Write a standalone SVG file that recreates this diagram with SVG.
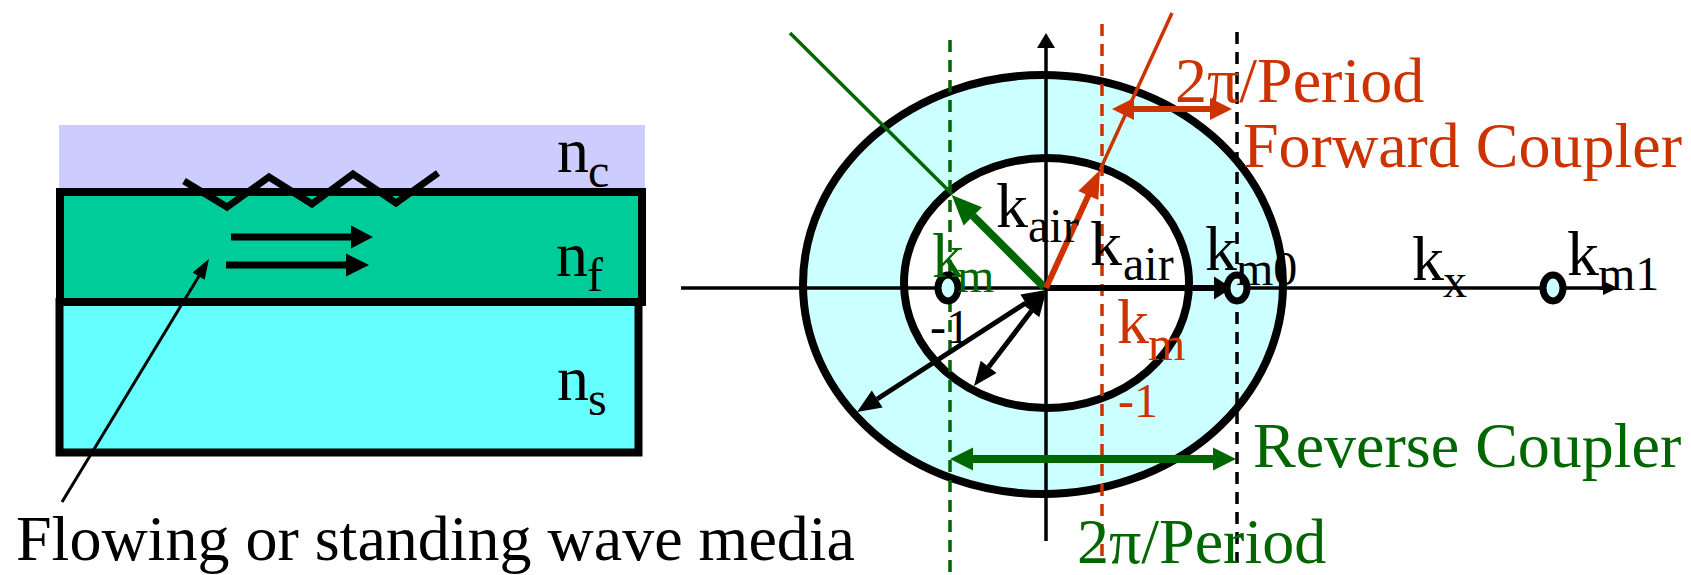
<svg xmlns="http://www.w3.org/2000/svg" width="1691" height="575" viewBox="0 0 1691 575">
<style>
text{font-family:"Liberation Serif","Times New Roman",serif;font-size:64px;fill:#000}
.sub{font-size:48px}
.red{fill:#CC3300}
.grn{fill:#006600}
.dash{stroke-width:3.5;stroke-dasharray:12 8;fill:none}
</style>
<rect width="1691" height="575" fill="#fff"/>

<g id="media">
  <rect id="cladding" x="59" y="125" width="586" height="67" fill="#CCCCFF"/>
  <rect id="substrate" x="59.5" y="302" width="579" height="150.5" fill="#66FFFF" stroke="#000" stroke-width="8"/>
  <rect id="film" x="60" y="192" width="582" height="110" fill="#00CC99" stroke="#000" stroke-width="8"/>
  <polyline id="grating" points="184,181 227,207 269,177 312,204 353,174 396,203 438,173" fill="none" stroke="#000" stroke-width="7"/>
  <g id="flow">
    <line x1="231" y1="237" x2="352" y2="237" stroke="#000" stroke-width="7"/>
    <polygon points="351,225.5 373,237 351,248.5" fill="#000"/>
    <line x1="226" y1="265" x2="347" y2="265" stroke="#000" stroke-width="7"/>
    <polygon points="346,253.5 369,265 346,276.5" fill="#000"/>
  </g>
  <text x="557" y="172">n<tspan class="sub" x="588" y="187">c</tspan></text>
  <text x="556" y="276">n<tspan class="sub" x="587" y="291">f</tspan></text>
  <text x="557" y="400">n<tspan class="sub" x="588" y="415">s</tspan></text>
</g>

<g id="caption">
  <line x1="62" y1="502" x2="199" y2="276" stroke="#000" stroke-width="3"/>
  <polygon points="209,259 204.6,279.7 192.6,272.5" fill="#000"/>
  <text x="16" y="560">Flowing or standing wave media</text>
</g>

<g id="circles">
  <ellipse id="outer" cx="1043" cy="284.5" rx="240" ry="209.5" fill="#CCFFFF" stroke="#000" stroke-width="8"/>
  <ellipse id="inner" cx="1046.5" cy="283" rx="142.5" ry="125" fill="#fff" stroke="#000" stroke-width="8"/>
</g>

<g id="connectors">
  <line x1="950" y1="40" x2="950" y2="573" stroke="#006600" class="dash"/>
  <line x1="1102" y1="24" x2="1102" y2="557" stroke="#CC3300" class="dash"/>
  <line x1="1237" y1="32" x2="1237" y2="563" stroke="#000" class="dash"/>

  <line x1="681" y1="288" x2="1604" y2="288" stroke="#000" stroke-width="3.5"/>
  <polygon points="1603,281 1618,288 1603,295" fill="#000"/>
  <line x1="1046" y1="541" x2="1046" y2="47" stroke="#000" stroke-width="3.5"/>
  <polygon points="1037,48 1046,33 1055,48" fill="#000"/>

  <line x1="1046" y1="288" x2="1215" y2="288" stroke="#000" stroke-width="6"/>
  <polygon points="1214,276.5 1232,288 1214,299.5" fill="#000"/>

  <line x1="1025.8" y1="303" x2="877.2" y2="399" stroke="#000" stroke-width="5"/>
  <polygon points="857,412 882.6,407.4 871.8,390.6" fill="#000"/>
  <polygon points="1046,290 1031.2,311.4 1020.4,294.6" fill="#000"/>
  <line x1="1031.4" y1="311.1" x2="988.6" y2="366.9" stroke="#000" stroke-width="5"/>
  <polygon points="974,386 996.5,373 980.7,360.8" fill="#000"/>
  <polygon points="1046,292 1039.3,317.2 1023.5,305" fill="#000"/>

  <line x1="790" y1="33" x2="952" y2="194" stroke="#006600" stroke-width="3.5"/>
  <line x1="1044" y1="287" x2="973" y2="216" stroke="#006600" stroke-width="8"/>
  <polygon points="951.7,195 982,207.2 963.6,225.4" fill="#006600"/>

  <line x1="1100" y1="170" x2="1172" y2="13" stroke="#CC3300" stroke-width="3.5"/>
  <line x1="1046" y1="288" x2="1089" y2="194" stroke="#CC3300" stroke-width="6"/>
  <polygon points="1100,170 1098.3,200.1 1078.3,190.9" fill="#CC3300"/>

  <line x1="1133" y1="109" x2="1211" y2="109" stroke="#CC3300" stroke-width="6"/>
  <polygon points="1134,98 1112,109 1134,120" fill="#CC3300"/>
  <polygon points="1210,98 1232,109 1210,120" fill="#CC3300"/>

  <line x1="972" y1="459" x2="1214" y2="459" stroke="#006600" stroke-width="8"/>
  <polygon points="973,447.5 950,459 973,470.5" fill="#006600"/>
  <polygon points="1213,447.5 1236,459 1213,470.5" fill="#006600"/>
</g>

<g id="points">
  <ellipse cx="948" cy="288" rx="10" ry="13" fill="#CCFFFF" stroke="#000" stroke-width="7"/>
  <ellipse cx="1237" cy="288" rx="10" ry="13" fill="#CCFFFF" stroke="#000" stroke-width="7"/>
  <ellipse cx="1553" cy="288" rx="10" ry="13" fill="#CCFFFF" stroke="#000" stroke-width="7"/>
</g>

<g id="labels">
  <text x="996" y="227">k<tspan class="sub" x="1028" y="242">air</tspan></text>
  <text x="1090" y="265">k<tspan class="sub" x="1123" y="280">air</tspan></text>
  <text class="grn" x="932" y="277">k<tspan class="sub" x="957" y="292">m</tspan></text>
  <text class="sub" x="930" y="343">-1</text>
  <text class="red" x="1117" y="343">k<tspan class="sub" x="1148" y="360">m</tspan></text>
  <text class="red sub" x="1118" y="417">-1</text>
  <text x="1205" y="270">k<tspan class="sub" x="1236" y="285">m0</tspan></text>
  <text x="1412" y="280">k<tspan class="sub" x="1443" y="297">x</tspan></text>
  <text x="1567" y="275">k<tspan class="sub" x="1598" y="290">m1</tspan></text>
  <text class="red" x="1175" y="102">2π/Period</text>
  <text class="red" x="1243" y="167">Forward Coupler</text>
  <text class="grn" x="1253" y="467">Reverse Coupler</text>
  <text class="grn" x="1077" y="563">2π/Period</text>
</g>
</svg>
